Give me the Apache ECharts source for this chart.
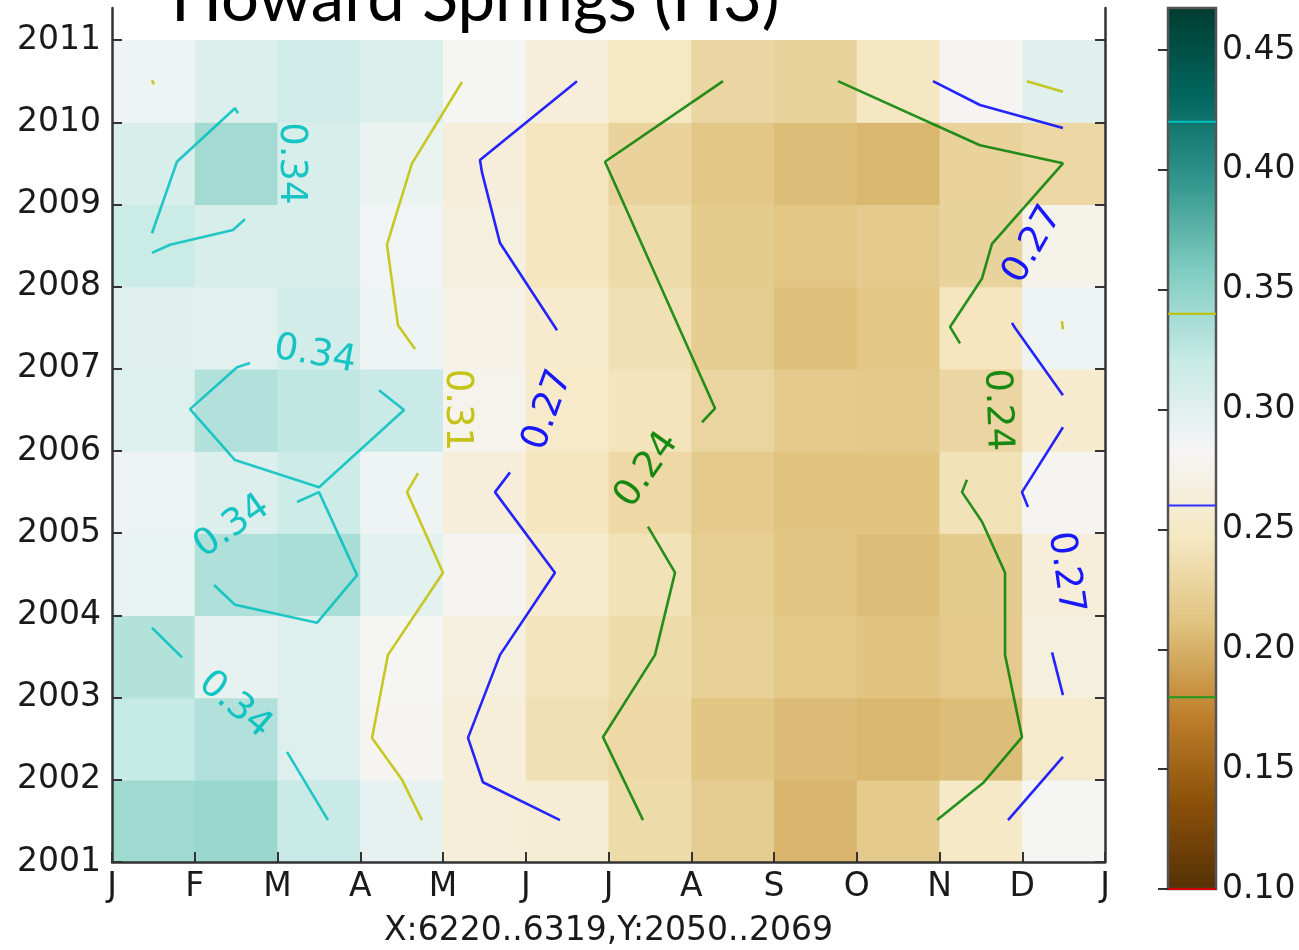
<!DOCTYPE html>
<html><head><meta charset="utf-8">
<script src="https://cdn.jsdelivr.net/npm/echarts@6/dist/echarts.min.js"></script>
<style>html,body{margin:0;padding:0;background:#fff}#c{width:1299px;height:950px}</style>
</head><body><div id="c"></div>
<script>
// ---------- data ----------
const monthTicks = ['J','F','M','A','M','J','J','A','S','O','N','D','J'];
const monthTickValues = [0,1,2,3,4,5,6,7,8,9,10,11,12];
const years = [2001,2002,2003,2004,2005,2006,2007,2008,2009,2010];
const yearTicks = [2001,2002,2003,2004,2005,2006,2007,2008,2009,2010,2011];
// cell values, Jan..Dec
const v2001 = [0.341,0.344,0.319,0.295,0.263,0.260,0.234,0.220,0.203,0.218,0.250,0.283];
const v2002 = [0.321,0.332,0.302,0.280,0.263,0.239,0.232,0.213,0.207,0.204,0.208,0.254];
const v2003 = [0.331,0.295,0.302,0.283,0.268,0.243,0.234,0.225,0.216,0.212,0.218,0.267];
const v2004 = [0.294,0.333,0.336,0.298,0.281,0.256,0.241,0.222,0.213,0.208,0.219,0.263];
const v2005 = [0.291,0.303,0.315,0.289,0.264,0.245,0.232,0.218,0.212,0.212,0.241,0.280];
const v2006 = [0.302,0.332,0.324,0.319,0.277,0.253,0.243,0.228,0.218,0.217,0.230,0.256];
const v2007 = [0.301,0.299,0.312,0.289,0.272,0.256,0.239,0.220,0.209,0.215,0.245,0.289];
const v2008 = [0.318,0.308,0.308,0.287,0.267,0.245,0.234,0.219,0.214,0.218,0.227,0.275];
const v2009 = [0.308,0.339,0.308,0.292,0.265,0.245,0.226,0.215,0.208,0.204,0.226,0.231];
const v2010 = [0.289,0.303,0.313,0.305,0.283,0.264,0.247,0.230,0.227,0.246,0.282,0.301];

// contour polylines in data units [month index, year]
const contour034 = [
  [[1.523,2010.11],[1.486,2010.17],[0.785,2009.52],[0.483,2008.65]],
  [[0.483,2008.41],[0.701,2008.51],[1.462,2008.69],[1.607,2008.82]],
  [[3.227,2006.74],[3.529,2006.50],[2.502,2005.56],[1.486,2005.89],[0.943,2006.51],[1.511,2007.02],[1.668,2007.07]],
  [[2.236,2005.38],[2.502,2005.50],[2.961,2004.49],[2.477,2003.91],[1.486,2004.13],[1.233,2004.37]],
  [[0.483,2003.85],[0.846,2003.49]],
  [[2.115,2002.34],[2.610,2001.51]]
];
const contour031 = [
  [[4.230,2010.49],[3.625,2009.50],[3.323,2008.51],[3.456,2007.53],[3.662,2007.24]],
  [[3.698,2005.73],[3.565,2005.50],[4.000,2004.52],[3.335,2003.52],[3.142,2002.51],[3.505,2002.00],[3.746,2001.51]],
  [[0.483,2010.51],[0.508,2010.46]],
  [[11.057,2010.50],[11.492,2010.37]],
  [[11.480,2007.58],[11.492,2007.48]]
];
const contour027 = [
  [[5.619,2010.50],[4.447,2009.54],[4.471,2009.39],[4.689,2008.53],[5.378,2007.47]],
  [[4.810,2005.74],[4.628,2005.50],[5.353,2004.52],[4.689,2003.52],[4.302,2002.51],[4.483,2001.97],[5.414,2001.51]],
  [[9.921,2010.50],[10.489,2010.21],[11.492,2009.93]],
  [[10.876,2007.56],[10.912,2007.50],[11.492,2006.68]],
  [[11.492,2006.29],[10.997,2005.50],[11.069,2005.32]],
  [[11.360,2003.55],[11.492,2003.03]],
  [[11.492,2002.28],[10.828,2001.51]]
];
const contour024 = [
  [[7.384,2010.50],[5.958,2009.52],[7.287,2006.52],[7.130,2006.35]],
  [[6.477,2005.08],[6.804,2004.52],[6.562,2003.52],[5.934,2002.52],[6.417,2001.51]],
  [[8.773,2010.50],[10.489,2009.72],[11.492,2009.50],[10.634,2008.52],[10.514,2008.10],[10.127,2007.51],[10.248,2007.31]],
  [[10.332,2005.65],[10.272,2005.50],[10.514,2005.14],[10.792,2004.52],[10.792,2003.52],[10.997,2002.52],[10.526,2001.96],[9.970,2001.51]]
];
// inline contour labels
const labelTexts   = ['0.34','0.34','0.34','0.34','0.31','0.27','0.27','0.27','0.24','0.24'];
const labelAnchors = [[2.163,2009.50],[2.453,2007.17],[1.450,2005.08],[1.486,2002.91],[4.169,2006.50],
                      [5.269,2006.50],[11.130,2008.51],[11.517,2004.52],[6.465,2005.77],[10.695,2006.50]];
const labelAngles  = [-90,-10,35,-40,-90,70,60,-82,55,-88];
const labelLevel   = [0,0,0,0,1,2,2,2,3,3];

// colour bar
const cbMin = 0.10, cbMax = 0.4675;
const cbLevels = [0.10,0.18,0.26,0.34,0.42];
const cbTicks = [0.10,0.15,0.20,0.25,0.30,0.35,0.40,0.45];

// ---------- styling ----------
const brbg = ['#543005','#8c510a','#bf812d','#dfc27d','#f6e8c3','#f5f5f5','#c7eae5','#80cdc1','#35978f','#01665e','#003c30'];
const levelColors = ['#00bfbf','#bfbf00','#0000ff','#008000'];
const cbLevelColors = ['#d00000','#1a9a1a','#3030ff','#bfbf00','#00bfbf'];
const FONT = 'DejaVu Sans';
const axisColor = '#333';
const textColor = '#1a1a1a';

const yearRows = [v2001,v2002,v2003,v2004,v2005,v2006,v2007,v2008,v2009,v2010];
const cells = [];
years.forEach((yr, r) => yearRows[r].forEach((v, m) => cells.push([m, yr, v])));

const series = [];
series.push({
  type: 'custom', xAxisIndex: 0, yAxisIndex: 0, z: 1,
  encode: {x: 0, y: 1},
  data: cells,
  renderItem: (params, api) => {
    const m = api.value(0), y = api.value(1);
    const p1 = api.coord([m, y + 1]), p2 = api.coord([m + 1, y]);
    return {type: 'rect', shape: {x: p1[0], y: p1[1], width: p2[0] - p1[0] + 0.6, height: p2[1] - p1[1] + 0.6},
      style: {fill: api.visual('color')}};
  }
});
[contour034, contour031, contour027, contour024].forEach((lv, li) => {
  lv.forEach(seg => series.push({
    type: 'line', xAxisIndex: 0, yAxisIndex: 0, z: 3, data: seg,
    symbol: 'none', silent: true,
    lineStyle: {color: levelColors[li], width: 2.6, opacity: 0.85}
  }));
});
series.push({
  type: 'scatter', xAxisIndex: 0, yAxisIndex: 0, z: 4, symbolSize: 1,
  itemStyle: {color: 'rgba(0,0,0,0)'}, silent: true,
  data: labelAnchors.map((p, i) => ({
    value: p,
    label: {show: true, position: 'inside', formatter: labelTexts[i], rotate: labelAngles[i],
      color: levelColors[labelLevel[i]], fontSize: 37, fontFamily: FONT, opacity: 0.9}
  }))
});
// colour bar
series.push({
  type: 'custom', xAxisIndex: 1, yAxisIndex: 2, z: 1,
  encode: {x: 0, y: 1},
  data: [[0.5, (cbMin + cbMax) / 2]],
  renderItem: (params, api) => {
    const p1 = api.coord([0, cbMax]), p2 = api.coord([1, cbMin]);
    const stops = brbg.map((c, i) => ({offset: 1 - i / (brbg.length - 1), color: c})).reverse();
    return {type: 'rect', shape: {x: p1[0], y: p1[1], width: p2[0] - p1[0], height: p2[1] - p1[1]},
      style: {fill: new echarts.graphic.LinearGradient(0, 0, 0, 1, stops), stroke: '#555', lineWidth: 2.5}};
  }
});
series.push({
  type: 'custom', xAxisIndex: 1, yAxisIndex: 2, z: 2,
  encode: {x: 0, y: 1},
  data: cbLevels.map(v => [0, v]),
  renderItem: (params, api) => {
    const v = api.value(1);
    const p1 = api.coord([0, v]), p2 = api.coord([1, v]);
    return {type: 'line', shape: {x1: p1[0], y1: p1[1], x2: p2[0], y2: p2[1]},
      style: {stroke: cbLevelColors[params.dataIndex], lineWidth: 2}};
  }
});

const chart = echarts.init(document.getElementById('c'), null, {renderer: 'canvas'});
chart.setOption({
  animation: false,
  backgroundColor: '#fff',
  title: {text: 'Howard Springs (H3)', left: 166, top: -39,
    textStyle: {fontFamily: 'Lato', fontSize: 67, fontWeight: 'normal', color: '#000'}},
  visualMap: {type: 'continuous', show: false, seriesIndex: 0, dimension: 2, min: cbMin, max: cbMax,
    inRange: {color: brbg}},
  grid: [
    {left: 112, top: 8, width: 993, height: 854, containLabel: false, outerBoundsMode: 'none'},
    {left: 1168, top: 8, width: 48, height: 881, containLabel: false, outerBoundsMode: 'none'}
  ],
  xAxis: [
    {gridIndex: 0, type: 'value', min: 0, max: 12, interval: 1, z: 5,
      axisLine: {show: true, onZero: false, lineStyle: {color: axisColor, width: 2.5}},
      axisTick: {show: true, inside: true, length: 10, customValues: monthTickValues, lineStyle: {color: axisColor, width: 2}},
      axisLabel: {customValues: monthTickValues, formatter: v => monthTicks[Math.round(v)], fontSize: 33,
        fontFamily: FONT, color: textColor, margin: 9},
      splitLine: {show: false},
      name: 'X:6220..6319,Y:2050..2069', nameLocation: 'middle', nameGap: 53,
      nameTextStyle: {fontSize: 33, fontFamily: FONT, color: textColor}},
    {gridIndex: 1, type: 'value', min: 0, max: 1, show: false}
  ],
  yAxis: [
    {gridIndex: 0, type: 'value', min: 2001, max: 2011.39, interval: 1, z: 5,
      axisLine: {show: true, onZero: false, lineStyle: {color: axisColor, width: 2.5}},
      axisTick: {show: true, inside: true, length: 10, customValues: yearTicks, lineStyle: {color: axisColor, width: 2}},
      axisLabel: {customValues: yearTicks, formatter: v => String(Math.round(v)), fontSize: 33,
        fontFamily: FONT, color: textColor, margin: 11},
      splitLine: {show: false}},
    {gridIndex: 0, type: 'value', position: 'right', min: 2001, max: 2011.39, interval: 1, z: 5,
      axisLine: {show: true, onZero: false, lineStyle: {color: axisColor, width: 2.5}},
      axisTick: {show: true, inside: true, length: 10, customValues: yearTicks, lineStyle: {color: axisColor, width: 2}},
      axisLabel: {show: false}, splitLine: {show: false}},
    {gridIndex: 1, type: 'value', position: 'right', min: cbMin, max: cbMax, interval: 0.05, z: 5,
      axisLine: {show: false},
      axisTick: {show: true, inside: true, length: 10, customValues: cbTicks,
        lineStyle: {color: axisColor, width: 2}},
      axisLabel: {customValues: cbTicks, formatter: v => v.toFixed(2),
        fontSize: 33, fontFamily: FONT, color: textColor, margin: 6},
      splitLine: {show: false}}
  ],
  series: series
});
</script>
</body></html>
